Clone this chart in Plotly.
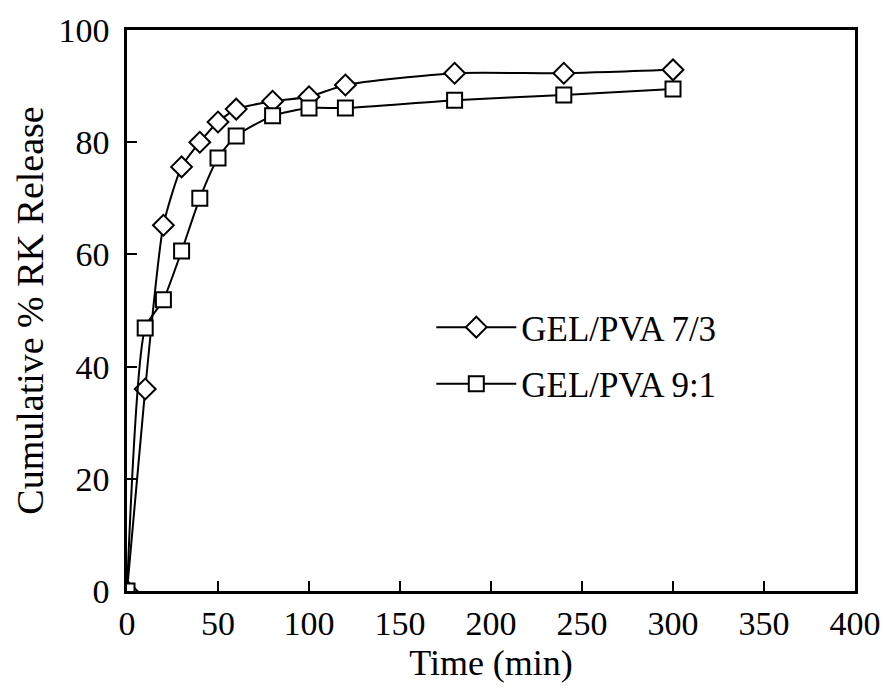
import plotly.graph_objects as go

time_min = [0, 10, 20, 30, 40, 50, 60, 80, 100, 120, 180, 240, 300]
gel_pva_73 = [0, 36.0, 65.2, 75.6, 80.0, 83.6, 85.9, 87.3, 88.1, 90.2, 92.3, 92.3, 92.9]
gel_pva_91 = [0, 46.9, 51.9, 60.6, 70.0, 77.2, 81.1, 84.7, 86.1, 86.1, 87.5, 88.4, 89.5]

FONT = "Liberation Serif"

fig = go.Figure()
fig.add_trace(go.Scatter(
    x=time_min, y=gel_pva_73, name="GEL/PVA 7/3", mode="lines+markers",
    legendgroup="a",
    line=dict(color="black", width=2, shape="spline", smoothing=0.6),
    marker=dict(symbol="diamond", size=16, color="white", line=dict(color="black", width=2)),
))
fig.add_trace(go.Scatter(
    x=time_min, y=gel_pva_91, name="GEL/PVA 9:1", mode="lines+markers",
    legendgroup="b",
    line=dict(color="black", width=2, shape="spline", smoothing=0.6),
    marker=dict(symbol="square", size=15, color="white", line=dict(color="black", width=2)),
))

fig.update_layout(
    width=888, height=700,
    margin=dict(l=127, r=33, t=30, b=109, autoexpand=False),
    paper_bgcolor="white", plot_bgcolor="white",
    font=dict(family=FONT, size=34, color="black"),
    showlegend=True,
    legend=dict(x=0.418, y=0.42, xanchor="left", yanchor="middle",
                bgcolor="rgba(0,0,0,0)", font=dict(size=35, family=FONT),
                itemwidth=80, tracegroupgap=8),
)
fig.update_xaxes(
    range=[0, 400], tickvals=[0, 50, 100, 150, 200, 250, 300, 350, 400],
    ticks="inside", ticklen=10, tickwidth=1.5, tickcolor="black",
    showline=True, linecolor="black", linewidth=2.5, mirror=True,
    showgrid=False, zeroline=False, automargin=False,
    title=dict(text="Time (min)", font=dict(size=36, family=FONT), standoff=10),
    tickfont=dict(size=34, family=FONT),
)
fig.update_yaxes(
    range=[0, 100], tickvals=[0, 20, 40, 60, 80, 100],
    ticks="inside", ticklen=10, tickwidth=1.5, tickcolor="black",
    ticklabelstandoff=8,
    showline=True, linecolor="black", linewidth=2.5, mirror=True,
    showgrid=False, zeroline=False, automargin=False,
    title=dict(text="Cumulative % RK Release", font=dict(size=38, family=FONT), standoff=4),
    tickfont=dict(size=34, family=FONT),
)

fig.write_html("out.html")
